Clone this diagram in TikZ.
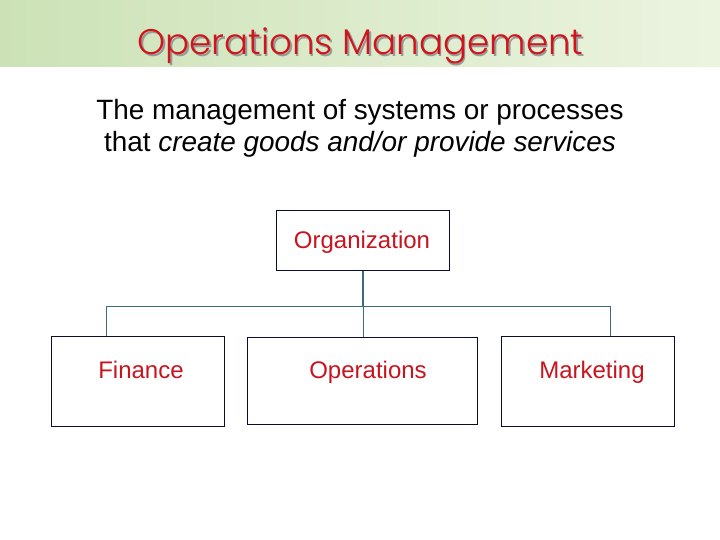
\documentclass[tikz,border=0pt]{standalone}
\usepackage{fontspec}
\setmainfont{Liberation Sans}
\IfFontExistsTF{Poppins Light}{\newfontfamily\titlefont{Poppins Light}}{\newfontfamily\titlefont{Poppins}}
\begin{document}
\begin{tikzpicture}[x=1pt,y=-1pt,
  orgbox/.style={draw=boxline,line width=1pt,fill=white,inner sep=0pt},
  boxtext/.style={text=boxred,anchor=base,font=\fontsize{24}{28}\selectfont},
  link/.style={draw=linkteal,line width=0.9pt}]
\definecolor{boxline}{HTML}{0C0C2E}
\definecolor{linkteal}{HTML}{3F6B80}
\definecolor{boxred}{HTML}{C8141E}
\definecolor{titlered}{HTML}{D0141A}
\definecolor{bandleft}{HTML}{CCE2B6}
\definecolor{bandright}{HTML}{ECF4E0}
\useasboundingbox (0,0) rectangle (720,540);
\fill[white] (0,0) rectangle (720,540);
\shade[left color=bandleft,right color=bandright] (0,0) rectangle (720,67);
\node[anchor=base,text=black!40,font=\titlefont\fontsize{35.6}{40}\selectfont] at (362,56.5) {Operations Management};
\node (title) [anchor=base,text=titlered,font=\titlefont\fontsize{35.6}{40}\selectfont] at (360.5,55) {Operations Management};
\node (sub1) [anchor=base,font=\fontsize{27.9}{32}\selectfont] at (360,120) {The management of systems or processes};
\node (sub2) [anchor=base,font=\fontsize{27.9}{32}\selectfont] at (360,152) {that \textit{create goods and/or provide services}};
\node (org) [orgbox,minimum width=173pt,minimum height=59pt] at (362.5,240.5) {};
\node[boxtext] at (362,248.5) {Organization};
\node (fin) [orgbox,minimum width=173pt,minimum height=90pt] at (137.5,381) {};
\node (ops) [orgbox,minimum width=230pt,minimum height=87pt] at (362,380.5) {};
\node (mkt) [orgbox,minimum width=173pt,minimum height=90pt] at (587.5,381) {};
\node[boxtext] at (141,378.5) {Finance};
\node[boxtext] at (368,378.5) {Operations};
\node[boxtext] at (592,378.5) {Marketing};
\coordinate (bus) at (363,306);
\draw[link,line width=2pt] (org.south -| bus) -- (bus);
\draw[link] (fin.north -| 106,0) -- (106,306) -- (610,306) -- (mkt.north -| 610,0);
\draw[link] (bus) -- (ops.north -| bus);
\end{tikzpicture}
\end{document}
